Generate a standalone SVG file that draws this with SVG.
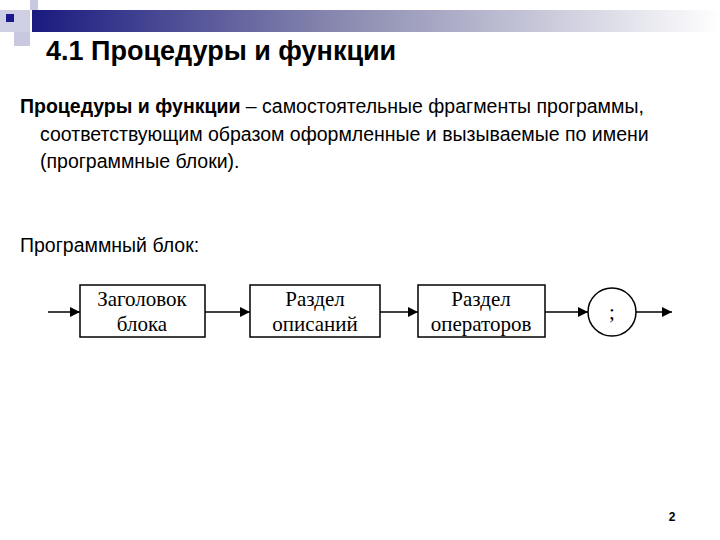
<svg xmlns="http://www.w3.org/2000/svg" width="720" height="540" viewBox="0 0 720 540">
<defs>
<linearGradient id="g" x1="0" x2="1" y1="0" y2="0"><stop offset="0" stop-color="#1a1a80"/><stop offset="0.45" stop-color="#8a8ab0"/><stop offset="1" stop-color="#ffffff"/></linearGradient>
<marker id="a" viewBox="0 0 10 10" refX="10" refY="5" markerWidth="14" markerHeight="10" markerUnits="userSpaceOnUse" orient="auto"><path d="M0,0L10,5L0,10z" fill="#000"/></marker>
<style>.b{fill:#fff;stroke:#000;stroke-width:1.5}.t{font-family:"Liberation Serif",serif;font-size:21px;text-anchor:middle}.s{font-family:"Liberation Sans",sans-serif;font-size:19.5px}.c{stroke:#000;stroke-width:1.5;fill:none;marker-end:url(#a)}</style>
</defs>
<rect width="720" height="540" fill="#fff"/>
<rect x="32" y="10" width="688" height="22" fill="url(#g)"/>
<rect x="30" y="0" width="8" height="10" fill="#c8c8e0"/>
<rect x="0" y="10" width="30" height="22" fill="#d0d0e4"/>
<rect x="6" y="14" width="8" height="8" fill="#1a1a90"/>
<rect x="14" y="32" width="16" height="14" fill="#c8c8e0"/>
<text x="46" y="60" font-family="Liberation Sans,sans-serif" font-size="27" font-weight="bold">4.1 Процедуры и функции</text>
<text class="s" x="20" y="113"><tspan font-weight="bold">Процедуры и функции</tspan> – самостоятельные фрагменты программы,</text>
<text class="s" x="40" y="141">соответствующим образом оформленные и вызываемые по имени</text>
<text class="s" x="40" y="168">(программные блоки).</text>
<text class="s" x="20" y="252">Программный блок:</text>
<g id="connectors">
<line class="c" x1="48" y1="312" x2="80" y2="312"/>
<line class="c" x1="205" y1="312" x2="250" y2="312"/>
<line class="c" x1="380" y1="312" x2="418" y2="312"/>
<line class="c" x1="545" y1="312" x2="588" y2="312"/>
<line class="c" x1="636" y1="312" x2="672" y2="312"/>
</g>
<g id="n1"><rect class="b" x="80" y="285" width="125" height="52"/><text class="t" x="142" y="306">Заголовок</text><text class="t" x="142" y="331">блока</text></g>
<g id="n2"><rect class="b" x="250" y="285" width="130" height="52"/><text class="t" x="315" y="306">Раздел</text><text class="t" x="315" y="331">описаний</text></g>
<g id="n3"><rect class="b" x="418" y="285" width="127" height="52"/><text class="t" x="481" y="306">Раздел</text><text class="t" x="481" y="331">операторов</text></g>
<g id="n4"><circle class="b" cx="612" cy="312" r="24"/><text class="t" x="612" y="319">;</text></g>
<text x="672" y="521" font-family="Liberation Sans,sans-serif" font-size="12" font-weight="bold" text-anchor="middle">2</text>
</svg>
